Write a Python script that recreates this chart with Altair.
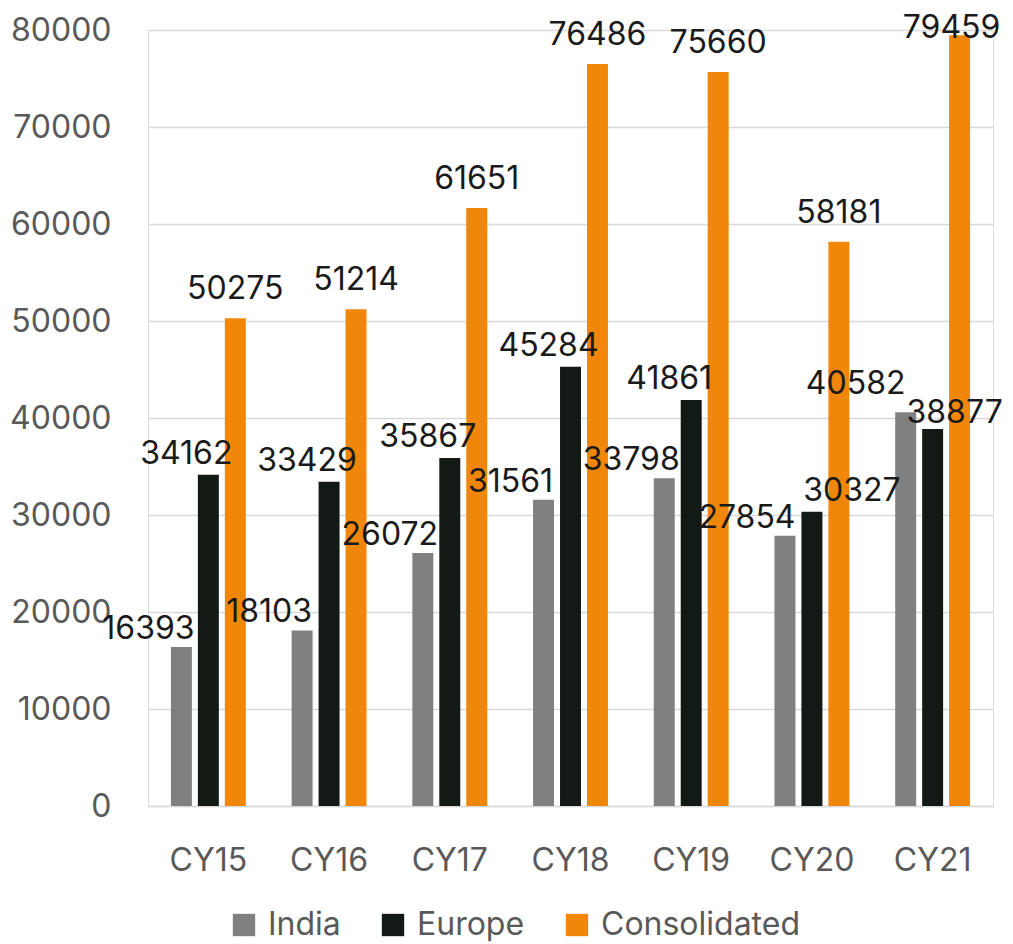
import altair as alt
import pandas as pd

years = ["CY15", "CY16", "CY17", "CY18", "CY19", "CY20", "CY21"]
india = [16393, 18103, 26072, 31561, 33798, 27854, 40582]
europe = [34162, 33429, 35867, 45284, 41861, 30327, 38877]
consolidated = [50275, 51214, 61651, 76486, 75660, 58181, 79459]
series = ["India", "Europe", "Consolidated"]
colors = ["#808080", "#131a15", "#f0870b"]

rows = []
for i, y in enumerate(years):
    for s, vals in zip(series, [india, europe, consolidated]):
        rows.append({"year": y, "series": s, "value": vals[i]})
df = pd.DataFrame(rows)

FONT = "Inter"
FS = 32

x = alt.X("year:N", sort=years, title=None,
          scale=alt.Scale(paddingInner=0.33, paddingOuter=0.165),
          axis=alt.Axis(labelFontSize=FS, labelColor="#595959", labelFont=FONT,
                        labelPadding=39, ticks=False, domainColor="#d9d9d9",
                        domainWidth=1.5, labelAngle=0))
xo = alt.XOffset("series:N", sort=series,
                 scale=alt.Scale(paddingInner=0.222, paddingOuter=0.111))
yscale = alt.Scale(domain=[0, 80000])
y = alt.Y("value:Q", title=None, scale=yscale,
          axis=alt.Axis(values=list(range(0, 80001, 10000)), format="d",
                        labelFontSize=FS, labelColor="#595959", labelFont=FONT,
                        labelPadding=37, ticks=False, domain=False,
                        gridColor="#d9d9d9", gridWidth=1.5))
color = alt.Color("series:N", sort=series,
                  scale=alt.Scale(domain=series, range=colors),
                  legend=alt.Legend(orient="none", legendX=80, legendY=879,
                                    direction="horizontal", title=None,
                                    symbolType="square", symbolSize=500,
                                    symbolStrokeWidth=0, labelFontSize=FS,
                                    labelColor="#595959", labelFont=FONT,
                                    labelLimit=400, columnPadding=36,
                                    labelOffset=8))

base = alt.Chart(df)
bars = base.mark_bar().encode(x=x, xOffset=xo, y=y, color=color)

# label placement groups: (filter, dx, dy)
groups = [
    ((alt.datum.series == "India") & (alt.datum.year != "CY20") & (alt.datum.year != "CY21"), -33, -8),
    ((alt.datum.series == "India") & (alt.datum.year == "CY20"), -38, -8),
    ((alt.datum.series == "India") & (alt.datum.year == "CY21"), -50, -18),
    ((alt.datum.series == "Europe") & (alt.datum.year != "CY20") & (alt.datum.year != "CY21"), -22, -11),
    ((alt.datum.series == "Europe") & (alt.datum.year == "CY20"), 40, -11),
    ((alt.datum.series == "Europe") & (alt.datum.year == "CY21"), 22, -6),
    ((alt.datum.series == "Consolidated") & (alt.datum.year != "CY21"), 0, -19),
    ((alt.datum.series == "Consolidated") & (alt.datum.year == "CY21"), -8, -19),
]
texts = []
for flt, dx, dy in groups:
    t = base.transform_filter(flt).transform_calculate(
        ly="min(datum.value, 77200)"
    ).mark_text(
        fontSize=FS, font=FONT, color="#1a1a1a", baseline="alphabetic",
        dy=dy, dx=dx
    ).encode(x=x, xOffset=xo, y=alt.Y("ly:Q", scale=yscale), text="value:Q")
    texts.append(t)

chart = alt.layer(bars, *texts).properties(
    width=845, height=776,
    autosize=alt.AutoSizeParams(type="none"),
    padding={"left": 140, "top": 22, "right": 12, "bottom": 137},
).configure_view(stroke=None).configure(font=FONT)

chart.save("out.html", embed_options={"renderer": "svg", "actions": False})
